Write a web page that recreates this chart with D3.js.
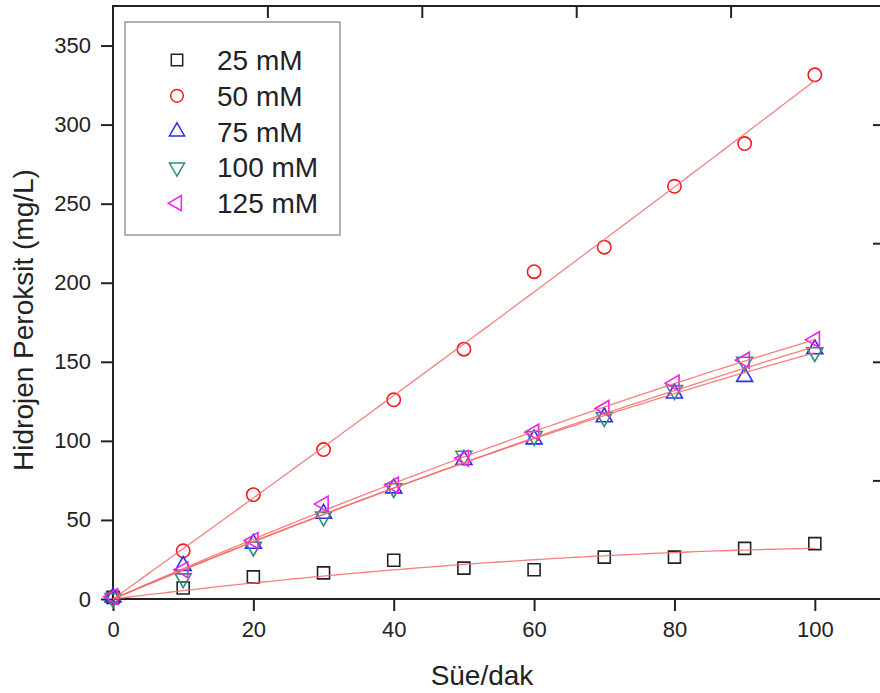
<!DOCTYPE html>
<html>
<head>
<meta charset="utf-8">
<script src="https://cdn.jsdelivr.net/npm/d3@7"></script>
<style>
	body { margin: 0; background: #fff; }
	svg text { font-family: "Liberation Sans", Arial, sans-serif; fill: #222; }
</style>
</head>
<body>
<svg class="chart"></svg>
<script>
const size = { w: 880, h: 693 };

// time points (dak)
const times = [0, 10, 20, 30, 40, 50, 60, 70, 80, 90, 100];

// series (mg/L)
const c25 = [1, 7, 14, 16.5, 24.5, 19.5, 18.5, 26.5, 26.5, 32, 35];
const c50 = [1, 30.5, 66, 94.5, 126, 158, 207, 222.5, 261, 288, 331.5];
const c75 = [1, 21, 35, 54, 70, 88, 101, 115, 130, 140.5, 158];
const c100 = [0.5, 13, 33, 52, 70, 90.5, 103, 115, 132, 150, 156];
const c125 = [1.5, 18.5, 37, 60, 72, 89, 105.5, 120.5, 136.5, 151, 164];

const seriesNames = ["25 mM", "50 mM", "75 mM", "100 mM", "125 mM"];
const seriesValues = [c25, c50, c75, c100, c125];

const xTicks = [0, 20, 40, 60, 80, 100];
const yTicks = [0, 50, 100, 150, 200, 250, 300, 350];

// marker look per series
const markerStyle = [
	{ type: d3.symbolSquare, size: 144, rotate: 0, color: "#222222" },
	{ type: d3.symbolCircle, size: 140, rotate: 0, color: "#ee1c24" },
	{ type: d3.symbolTriangle, size: 110, rotate: 0, color: "#2b2bf0" },
	{ type: d3.symbolTriangle, size: 110, rotate: 180, color: "#2a8f7f" },
	{ type: d3.symbolTriangle, size: 110, rotate: -90, color: "#ee22ee" },
];

const svg = d3.select("svg.chart").attr("width", size.w).attr("height", size.h);

const box = { left: 113, right: 885, top: 6, bottom: 599 };

const xScale = d3.scaleLinear().domain([0, 110]).range([box.left, box.right]);
const yScale = d3.scaleLinear().domain([0, 375]).range([box.bottom, box.top]);
// the top and right axes come from linked layers with their own ranges
const topScale = d3.scaleLinear().domain([0, 100]).range([box.left, box.right]);
const rightScale = d3.scaleLinear().domain([0, 250]).range([box.bottom, box.top]);

// least squares fit y = b*x + c*x^2 (curve through the origin)
function originFit(xs, ys) {
	let s2 = 0, s3 = 0, s4 = 0, t1 = 0, t2 = 0;
	xs.forEach((x, i) => {
		s2 += x * x;
		s3 += x * x * x;
		s4 += x * x * x * x;
		t1 += x * ys[i];
		t2 += x * x * ys[i];
	});
	let det = s2 * s4 - s3 * s3;
	let b = (t1 * s4 - t2 * s3) / det;
	let c = (s2 * t2 - s3 * t1) / det;
	return (x) => b * x + c * x * x;
}

// axes
const axisColor = "#222";

const bottomAxis = svg.append("g")
	.attr("transform", `translate(0,${box.bottom})`)
	.call(d3.axisBottom(xScale).tickValues(xTicks).tickSize(12).tickPadding(10));

const leftAxis = svg.append("g")
	.attr("transform", `translate(${box.left},0)`)
	.call(d3.axisLeft(yScale).tickValues(yTicks).tickSize(12).tickPadding(10));

const topAxis = svg.append("g")
	.attr("transform", `translate(0,${box.top})`)
	.call(d3.axisTop(topScale).tickValues([20, 40, 60, 80]).tickSize(-12).tickFormat(""));

const rightAxis = svg.append("g")
	.attr("transform", `translate(${box.right},0)`)
	.call(d3.axisRight(rightScale).tickValues([50, 100, 150, 200]).tickSize(-12).tickFormat(""));

[bottomAxis, leftAxis, topAxis, rightAxis].forEach((g) => {
	g.select(".domain").remove();
	g.selectAll(".tick line").attr("stroke", axisColor).attr("stroke-width", 2);
	g.selectAll(".tick text").attr("font-size", 22).attr("fill", "#222");
});

// frame
svg.append("rect")
	.attr("x", box.left)
	.attr("y", box.top)
	.attr("width", box.right - box.left)
	.attr("height", box.bottom - box.top)
	.attr("fill", "none")
	.attr("stroke", axisColor)
	.attr("stroke-width", 2);

// markers
const plotG = svg.append("g");

seriesValues.forEach((vals, si) => {
	let st = markerStyle[si];
	let pts = times.map((t, i) => [t, vals[i]]);
	plotG.append("g")
		.selectAll("path")
		.data(pts)
		.join("path")
		.attr("d", d3.symbol().type(st.type).size(st.size))
		.attr("transform", (d) => `translate(${xScale(d[0])},${yScale(d[1])}) rotate(${st.rotate})`)
		.attr("fill", "none")
		.attr("stroke", st.color)
		.attr("stroke-width", 1.6);
});

// fit lines
const fitX = d3.range(0, 100.5, 1);
const lineFn = d3.line()
	.x((d) => xScale(d[0]))
	.y((d) => yScale(d[1]));

seriesValues.forEach((vals) => {
	let f = originFit(times, vals);
	plotG.append("path")
		.datum(fitX.map((x) => [x, f(x)]))
		.attr("d", lineFn)
		.attr("fill", "none")
		.attr("stroke", "#f46a6a")
		.attr("stroke-width", 1.3)
		.attr("opacity", 0.85);
});

// legend
const legend = svg.append("g");
legend.append("rect")
	.attr("x", 125)
	.attr("y", 22)
	.attr("width", 215)
	.attr("height", 213)
	.attr("fill", "#fff")
	.attr("stroke", "#999")
	.attr("stroke-width", 1.5);

const legendRows = legend.selectAll("g.row")
	.data(seriesNames)
	.join("g")
	.classed("row", true)
	.attr("transform", (d, i) => `translate(0,${60 + i * 35.8})`);

legendRows.append("path")
	.attr("d", (d, i) => d3.symbol().type(markerStyle[i].type).size(markerStyle[i].size * 0.9)())
	.attr("transform", (d, i) => `translate(177,0) rotate(${markerStyle[i].rotate})`)
	.attr("fill", "none")
	.attr("stroke", (d, i) => markerStyle[i].color)
	.attr("stroke-width", 1.5);

legendRows.append("text")
	.attr("x", 217)
	.attr("dy", "0.36em")
	.attr("font-size", 28)
	.text((d) => d);

// axis titles
svg.append("text")
	.attr("x", 482)
	.attr("y", 685)
	.attr("text-anchor", "middle")
	.attr("font-size", 28)
	.text("Süe/dak");

svg.append("text")
	.attr("transform", "translate(33,320) rotate(-90)")
	.attr("text-anchor", "middle")
	.attr("font-size", 28)
	.text("Hidrojen Peroksit (mg/L)");
</script>
</body>
</html>
